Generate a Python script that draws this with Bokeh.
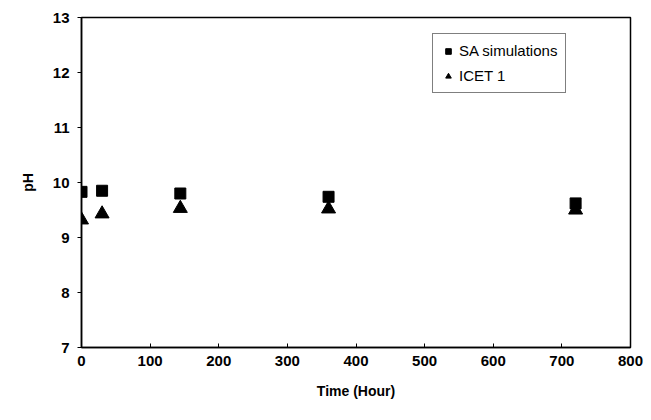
from bokeh.plotting import figure
from bokeh.models import Legend, LegendItem, FixedTicker, Range1d
from bokeh.embed import file_html
from bokeh.resources import INLINE

time_h = [0, 30, 144, 360, 720]
sa_sim = [9.83, 9.85, 9.80, 9.74, 9.62]
icet1 = [9.32, 9.43, 9.53, 9.52, 9.50]
x_ticks = [0, 100, 200, 300, 400, 500, 600, 700, 800]
y_ticks = [7, 8, 9, 10, 11, 12, 13]

FONT = "Liberation Sans"

p = figure(width=651, height=420, output_backend="svg", toolbar_location=None,
           x_range=Range1d(0, 800), y_range=Range1d(7, 13))
p.min_border_left = 81
p.min_border_right = 21
p.min_border_top = 17
p.min_border_bottom = 73
p.background_fill_color = "white"
p.border_fill_color = "white"
p.outline_line_color = "black"
p.outline_line_width = 1.5
p.xgrid.visible = False
p.ygrid.visible = False

sq = p.scatter(time_h, sa_sim, marker="square", size=11, color="black")
tr = p.scatter(time_h, icet1, marker="triangle", size=14, color="black")

for ax in (p.xaxis[0], p.yaxis[0]):
    ax.axis_line_color = "black"
    ax.axis_line_width = 1.5
    ax.major_tick_line_color = "black"
    ax.minor_tick_line_color = None
    ax.major_label_text_font = FONT
    ax.major_label_text_font_style = "bold"
    ax.major_label_text_font_size = "15px"
    ax.major_label_text_color = "black"
    ax.axis_label_text_font = FONT
    ax.axis_label_text_font_style = "bold"
    ax.axis_label_text_font_size = "14px"
    ax.axis_label_text_color = "black"

p.xaxis.ticker = FixedTicker(ticks=x_ticks)
p.yaxis.ticker = FixedTicker(ticks=y_ticks)
p.xaxis.major_tick_in = 4
p.xaxis.major_tick_out = 0
p.yaxis.major_tick_in = 0
p.yaxis.major_tick_out = 4
p.xaxis.major_label_standoff = 8
p.yaxis.major_label_standoff = 8
p.xaxis.axis_label = "Time (Hour)"
p.yaxis.axis_label = "pH"
p.xaxis.axis_label_standoff = 14
p.yaxis.axis_label_standoff = 14

legend = Legend(items=[LegendItem(label="SA simulations", renderers=[sq]),
                       LegendItem(label="ICET 1", renderers=[tr])],
                location=(351, 254))
legend.border_line_color = "black"
legend.border_line_width = 1.5
legend.background_fill_alpha = 1
legend.label_text_font = FONT
legend.label_text_font_size = "15px"
legend.label_text_color = "black"
legend.glyph_width = 14
legend.glyph_height = 16
legend.padding = 8
legend.spacing = 8
legend.margin = 0
legend.label_standoff = 4
p.add_layout(legend, "center")

open("out.html", "w").write(file_html(p, INLINE))
